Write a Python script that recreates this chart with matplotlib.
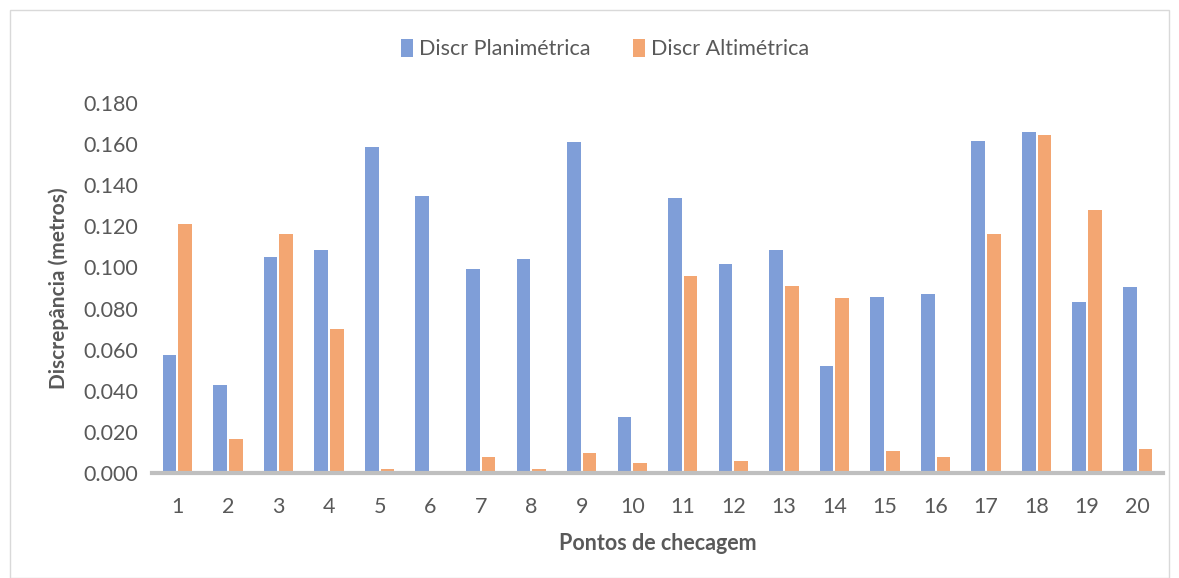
import numpy as np
import matplotlib.pyplot as plt
from matplotlib.patches import Rectangle

# data
pontos = [str(i) for i in range(1, 21)]
planimetrica = [0.0574, 0.0427, 0.1049, 0.1086, 0.1584, 0.1348, 0.0992, 0.1040,
                0.1612, 0.0272, 0.1338, 0.1017, 0.1086, 0.0522, 0.0856, 0.0872,
                0.1615, 0.1660, 0.0830, 0.0905]
altimetrica = [0.1210, 0.0167, 0.1163, 0.0699, 0.0018, 0.0005, 0.0078, 0.0020,
               0.0097, 0.0049, 0.0960, 0.0058, 0.0910, 0.0850, 0.0106, 0.0076,
               0.1161, 0.1643, 0.1281, 0.0115]
yticks = [0.0, 0.02, 0.04, 0.06, 0.08, 0.10, 0.12, 0.14, 0.16, 0.18]

plt.rcParams['font.family'] = ['Lato', 'DejaVu Sans']
plt.rcParams['hatch.linewidth'] = 0.3

fig = plt.figure(figsize=(11.79, 5.78), dpi=100)
ax = fig.add_axes([0.129, 0.1817, 0.8574, 0.6401])

# light frame around the chart area
fig.patches.append(Rectangle((10 / 1179, 0.0), 1 - 20 / 1179, 1 - 10 / 578,
                             transform=fig.transFigure, fill=False,
                             edgecolor='#d9d9d9', linewidth=1))

x = np.arange(len(pontos))
w = 0.27
gap = 0.02

# striped bars: base colour plus light horizontal hatch
ax.bar(x - w / 2 - gap, planimetrica, w, color='#4472C4', edgecolor='#a3b9e4',
       hatch='-' * 25, linewidth=0, label='Discr Planimétrica')
ax.bar(x + w / 2 + gap, altimetrica, w, color='#ED7D31', edgecolor='#f7c09a',
       hatch='-' * 25, linewidth=0, label='Discr Altimétrica')

ax.set_xlim(-0.5, len(pontos) - 0.5)
ax.set_ylim(0, 0.18)
ax.set_xticks(x)
ax.set_xticklabels(pontos)
ax.set_yticks(yticks)
ax.set_yticklabels([f'{v:.3f}' for v in yticks])
ax.tick_params(axis='both', length=0, labelsize=15.5, colors='#595959')
ax.tick_params(axis='x', pad=17)
ax.tick_params(axis='y', pad=10)

for s in ['top', 'right', 'left']:
    ax.spines[s].set_visible(False)
ax.spines['bottom'].set_color('#bfbfbf')
ax.spines['bottom'].set_linewidth(3)

ax.set_xlabel('Pontos de checagem', fontsize=15.5, fontweight='bold',
              color='#595959', labelpad=12)
ax.set_ylabel('Discrepância (metros)', fontsize=15, fontweight='bold',
              color='#595959', labelpad=10)

fig.legend(loc='center', bbox_to_anchor=(605 / 1179, 1 - 49 / 578), ncol=2,
           frameon=False, fontsize=15.5, handlelength=0.55, handleheight=0.9,
           handletextpad=0.3, columnspacing=1.95, labelcolor='#595959')

plt.savefig('out.png', dpi=100)
